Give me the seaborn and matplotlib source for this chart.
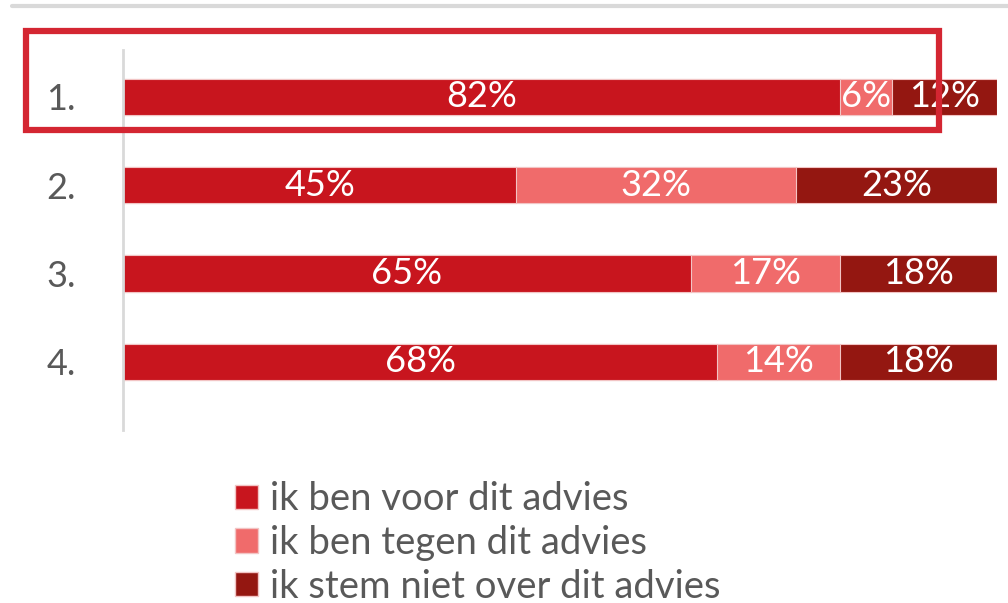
import matplotlib
matplotlib.use("Agg")
import matplotlib.pyplot as plt
import seaborn as sns
import pandas as pd
from matplotlib.patches import Patch, Rectangle
from matplotlib.lines import Line2D

# data
rows = ["1.", "2.", "3.", "4."]
voor = [82, 45, 65, 68]
tegen = [6, 32, 17, 14]
niet = [12, 23, 18, 18]
series = ["ik ben voor dit advies", "ik ben tegen dit advies", "ik stem niet over dit advies"]
colors = ["#C8151E", "#F06B6B", "#941711"]
grey_txt = "#595959"

sns.set_style("white")
plt.rcParams["font.family"] = ["Lato", "DejaVu Sans"]

df = pd.DataFrame({"row": rows, "voor": voor, "tegen": tegen, "niet": niet})
df["c1"] = df.voor
df["c2"] = df.voor + df.tegen
df["c3"] = df.c2 + df.niet

fig = plt.figure(figsize=(10.08, 6.03), dpi=100)
ax = fig.add_axes([0.122, 0.287, 0.867, 0.630])

# stacked bars: draw cumulative totals back to front
for col, c in [("c3", colors[2]), ("c2", colors[1]), ("c1", colors[0])]:
    sns.barplot(data=df, x=col, y="row", color=c, width=0.41, ax=ax,
                edgecolor="#f2c4c4", linewidth=0.8, saturation=1)

for i in range(len(rows)):
    start = 0
    for val in (voor[i], tegen[i], niet[i]):
        ax.text(start + val / 2, i, f"{val}%", ha="center", va="center",
                color="white", fontsize=26)
        start += val

ax.set_xlim(0, 100)
ax.set_ylim(3.77, -0.53)
ax.set_xlabel(""); ax.set_ylabel("")
ax.set_xticks([])
ax.tick_params(axis="y", length=0, pad=34, labelsize=26, labelcolor=grey_txt)
for s in ["top", "right", "bottom"]:
    ax.spines[s].set_visible(False)
ax.spines["left"].set_color("#d9d9d9")
ax.spines["left"].set_linewidth(2)

# decorations: grey rule at top, red highlight box around row 1
fig.add_artist(Line2D([12 / 1008, 1], [1 - 6 / 603] * 2, color="#d9d9d9", lw=3))
fig.add_artist(Rectangle((26 / 1008, 1 - 130 / 603), (939 - 26) / 1008, (130 - 31) / 603,
                         fill=False, ec="#D42632", lw=4.5, transform=fig.transFigure, zorder=10))

handles = [Patch(facecolor=c, edgecolor="#f2c4c4") for c in colors]
fig.legend(handles, series, loc="upper left", bbox_to_anchor=(220 / 1008, 1 - 466 / 603),
           frameon=False, fontsize=27.5, labelcolor=grey_txt, handlelength=0.6,
           handleheight=0.6, handletextpad=0.3, labelspacing=0.2, borderaxespad=0)

fig.savefig("out.png", dpi=100)
